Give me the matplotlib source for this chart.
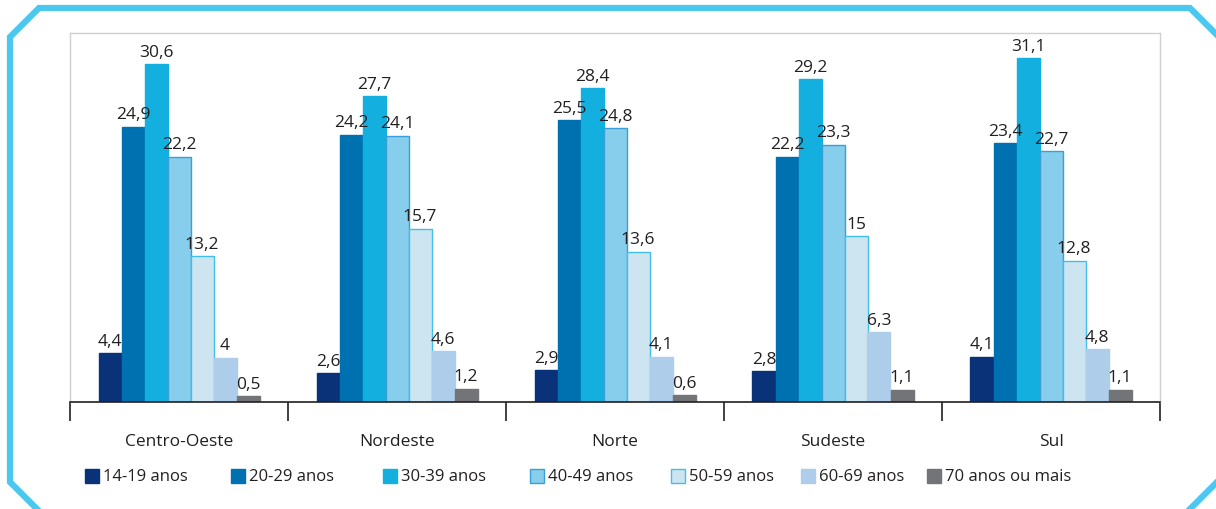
import matplotlib
matplotlib.use("Agg")
import matplotlib.pyplot as plt
from matplotlib.patches import Rectangle
from matplotlib.lines import Line2D
import numpy as np

plt.rcParams['font.family'] = ['Open Sans', 'DejaVu Sans']

regions = ["Centro-Oeste", "Nordeste", "Norte", "Sudeste", "Sul"]
series = ["14-19 anos", "20-29 anos", "30-39 anos", "40-49 anos",
          "50-59 anos", "60-69 anos", "70 anos ou mais"]
v_14_19 = [4.4, 2.6, 2.9, 2.8, 4.1]
v_20_29 = [24.9, 24.2, 25.5, 22.2, 23.4]
v_30_39 = [30.6, 27.7, 28.4, 29.2, 31.1]
v_40_49 = [22.2, 24.1, 24.8, 23.3, 22.7]
v_50_59 = [13.2, 15.7, 13.6, 15.0, 12.8]
v_60_69 = [4.0, 4.6, 4.1, 6.3, 4.8]
v_70 = [0.5, 1.2, 0.6, 1.1, 1.1]
values = [v_14_19, v_20_29, v_30_39, v_40_49, v_50_59, v_60_69, v_70]

faces = ["#0a3278", "#0071b0", "#12afdf", "#87ceec", "#cce5f1", "#aecdeb", "#737478"]
edges = ["#0a3278", "#0071b0", "#12afdf", "#3a9fd6", "#42bfe9", "#aecdeb", "#737478"]
txt = "#231f20"

W, H = 1216, 510
fig = plt.figure(figsize=(W / 100, H / 100), dpi=100)

def fx(px):
    return px / W

def fy(py):
    return 1 - py / H

ax = fig.add_axes([fx(70), fy(403), fx(1160) - fx(70), fy(34) - fy(403)])

n = len(series)
bw = 23 / 218
x = np.arange(len(regions))
for i, (vals, fc, ec) in enumerate(zip(values, faces, edges)):
    pos = x + (i - (n - 1) / 2) * bw
    ax.bar(pos, vals, width=bw, color=fc, edgecolor=ec, linewidth=1.0)
    for p, v in zip(pos, vals):
        lab = ("%g" % v).replace(".", ",")
        ax.text(p, v + 0.4, lab, ha="center", va="bottom", fontsize=12.5, color=txt)

ax.set_xlim(-0.5, len(regions) - 0.5)
ax.set_ylim(0, 33.4)
ax.set_yticks([])
ax.set_xticks(np.arange(len(regions) + 1) - 0.5)
ax.set_xticklabels([])
ax.tick_params(axis="x", length=14, width=1.2, color=txt, direction="out")
for s in ["top", "left", "right"]:
    ax.spines[s].set_color("#d0d0d0")
    ax.spines[s].set_linewidth(1.0)
ax.spines["bottom"].set_color(txt)
ax.spines["bottom"].set_linewidth(1.2)

for xi, r in zip(x, regions):
    ax.text(xi, -3.55, r, ha="center", va="center", fontsize=12.5, color=txt)

# legend (manual)
sq_x = [85, 231, 383, 530, 671, 801, 927]
for sx, lab, fc, ec in zip(sq_x, series, faces, edges):
    fig.patches.append(Rectangle((fx(sx), fy(484)), 14 / W, 14 / H, transform=fig.transFigure,
                                 facecolor=fc, edgecolor=ec, linewidth=1.0))
    fig.text(fx(sx + 18), fy(477), lab, ha="left", va="center", fontsize=12, color=txt)

# decorative frame
col = "#4cc8f0"
pts = [(1226, 45), (1190, 9), (39, 9), (10, 38), (10, 483), (38, 511)]
fig.lines.append(Line2D([fx(p[0]) for p in pts], [fy(p[1]) for p in pts],
                        transform=fig.transFigure, color=col, linewidth=4.5,
                        solid_joinstyle="miter"))
pts2 = [(1188, 512), (1218, 482)]
fig.lines.append(Line2D([fx(p[0]) for p in pts2], [fy(p[1]) for p in pts2],
                        transform=fig.transFigure, color=col, linewidth=4.5))

fig.savefig("out.png", dpi=100)
